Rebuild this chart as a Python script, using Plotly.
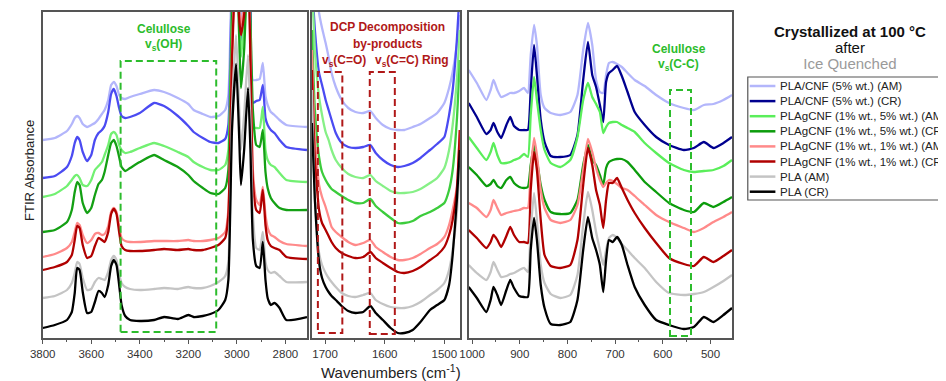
import plotly.graph_objects as go

# the page body adds an 8px margin, so the figure is sized to fill the rest of the 946x381 window
OFF = 8
W, H = 946 - OFF, 381 - OFF

# ---------------- wavenumber grids (cm-1) ----------------
WN_OH = [3800, 3750, 3700, 3680, 3668, 3658, 3648, 3635, 3617, 3600, 3585, 3570, 3556, 3545, 3530,
         3518, 3507, 3496, 3485, 3475, 3460, 3440, 3400, 3341, 3300, 3243, 3200, 3178, 3140, 3109,
         3076, 3048, 3035, 3020, 3003, 2990, 2983, 2970, 2954, 2944, 2934, 2920, 2906, 2893, 2882,
         2873, 2860, 2845, 2824, 2796, 2711]
WN_CO = [1722, 1717, 1710, 1705, 1699, 1694, 1689, 1682, 1672, 1661, 1649, 1636, 1624, 1615, 1603,
         1590, 1578, 1567, 1553, 1540, 1524, 1512, 1500, 1492, 1486, 1479, 1474]
WN_FP = [1007, 990, 970, 961, 955, 947, 939, 928, 920, 912, 901, 891, 883, 877, 870, 864, 856, 848,
         835, 815, 794, 779, 767, 757, 748, 740, 732, 725, 719, 713, 705, 696, 686, 674, 659, 638,
         614, 587, 556, 535, 514, 494, 473, 455]

SERIES = ["PLA/CNF (5% wt.) (AM)", "PLA/CNF (5% wt.) (CR)",
          "PLAgCNF (1% wt., 5% wt.) (AM)", "PLAgCNF (1% wt., 5% wt.) (CR)",
          "PLAgCNF (1% wt., 1% wt.) (AM)", "PLAgCNF (1% wt., 1% wt.) (CR)",
          "PLA (AM)", "PLA (CR)"]

# ---------------- panel 1 : 3800-2711 cm-1 (offset absorbance, a.u.) ----------------
OH_CNF5_AM = [200, 202, 209, 216, 222, 224, 222, 216, 213, 215, 217, 221, 226, 230, 240, 255, 258, 254, 245, 242,
              241, 243, 246, 250, 248, 242, 236, 230, 226, 223, 224, 230, 245, 380, 460, 360, 315, 360, 460, 380,
              260, 260, 261, 277, 244, 235, 228, 225, 220, 215, 213]
OH_CNF5_CR = [162, 164, 173, 184, 197, 203, 200, 188, 179, 185, 200, 207, 210, 214, 228, 246, 251, 244, 232, 224,
              222, 223, 227, 237, 234, 224, 214, 208, 202, 198, 197, 201, 215, 360, 440, 340, 290, 330, 440, 340,
              237, 239, 240, 255, 222, 215, 210, 207, 200, 193, 190]
OH_G15_AM = [143, 146, 154, 160, 164, 165, 162, 155, 154, 160, 170, 174, 178, 185, 195, 206, 208, 205, 195, 190,
             187, 188, 192, 197, 194, 188, 183, 178, 173, 170, 170, 175, 190, 340, 420, 330, 283, 320, 410, 300,
             213, 212, 212, 233, 190, 180, 175, 173, 167, 160, 158]
OH_G15_CR = [108, 110, 118, 130, 148, 158, 155, 137, 127, 132, 145, 156, 160, 168, 185, 197, 200, 194, 183, 173,
             169, 172, 178, 185, 180, 173, 165, 159, 152, 147, 146, 152, 170, 320, 400, 300, 252, 290, 380, 320,
             230, 195, 193, 210, 168, 152, 142, 137, 132, 130, 130]
OH_G11_AM = [83, 86, 92, 98, 108, 117, 115, 105, 97, 100, 106, 107, 105, 106, 114, 128, 132, 128, 114, 102,
             99, 98, 98, 99, 99, 99, 100, 99, 99, 100, 102, 108, 130, 290, 390, 330, 315, 335, 390, 290,
             170, 140, 135, 153, 125, 112, 105, 103, 99, 96, 94]
OH_G11_CR = [70, 73, 78, 85, 100, 114, 112, 95, 82, 84, 94, 102, 100, 98, 108, 126, 131, 126, 108, 94,
             90, 89, 89, 90, 91, 90, 91, 90, 90, 92, 95, 102, 125, 280, 380, 320, 305, 325, 380, 280,
             160, 130, 127, 150, 115, 100, 94, 92, 90, 83, 81]
OH_PLA_AM = [42, 44, 50, 57, 67, 78, 76, 62, 50, 51, 58, 62, 61, 60, 68, 80, 84, 80, 66, 57,
             53, 51, 50, 51, 52, 51, 53, 52, 52, 54, 58, 64, 78, 230, 305, 230, 190, 225, 285, 220,
             125, 92, 90, 108, 78, 70, 67, 68, 64, 58, 58]
OH_PLA_CR = [12, 15, 20, 28, 47, 72, 70, 48, 27, 28, 38, 49, 47, 43, 55, 74, 80, 75, 55, 35,
             24, 20, 19, 20, 23, 21, 25, 23, 24, 26, 30, 40, 60, 210, 276, 200, 155, 190, 252, 190,
             100, 74, 72, 98, 60, 42, 35, 37, 32, 20, 23]

# ---------------- panel 2 : 1722-1474 cm-1 ----------------
CO_CNF5_AM = [420, 360, 327, 312, 297, 283, 267, 253, 240, 232, 228, 227, 229, 222, 215, 211, 210, 210, 213, 216,
              222, 227, 237, 252, 268, 295, 325]
CO_CNF5_CR = [360, 310, 267, 255, 240, 230, 220, 207, 197, 193, 192, 193, 195, 187, 180, 175, 173, 174, 177, 182,
              190, 196, 203, 225, 250, 300, 350]
CO_G15_AM = [360, 290, 243, 225, 208, 200, 190, 180, 172, 166, 163, 162, 165, 159, 154, 149, 147, 147, 148, 151,
             157, 162, 172, 190, 215, 260, 310]
CO_G15_CR = [310, 230, 183, 168, 160, 155, 151, 148, 144, 140, 137, 137, 141, 134, 128, 122, 117, 117, 119, 124,
             128, 132, 137, 150, 170, 220, 280]
CO_G11_AM = [290, 200, 155, 143, 133, 123, 113, 108, 103, 98, 95, 97, 100, 93, 88, 83, 80, 80, 82, 86,
             92, 96, 103, 115, 130, 153, 210]
CO_G11_CR = [270, 180, 130, 117, 110, 104, 98, 92, 87, 84, 82, 83, 88, 82, 77, 72, 68, 67, 69, 73,
             80, 85, 93, 105, 120, 150, 210]
CO_PLA_AM = [250, 140, 87, 75, 67, 62, 58, 53, 47, 44, 43, 45, 47, 40, 36, 33, 32, 32, 34, 38,
             45, 50, 57, 70, 90, 127, 180]
CO_PLA_CR = [217, 140, 78, 62, 53, 48, 44, 40, 34, 29, 27, 28, 34, 27, 20, 12, 7, 7, 10, 18,
             30, 35, 40, 55, 85, 140, 190]

# ---------------- panel 3 : 1007-455 cm-1 ----------------
FP_CNF5_AM = [270, 257, 240, 250, 260, 250, 243, 245, 247, 247, 249, 252, 247, 285, 315, 295, 245, 232, 227, 225,
              228, 245, 290, 317, 295, 260, 248, 247, 265, 277, 278, 276, 273, 267, 260, 254, 245, 237, 232, 230,
              235, 236, 240, 245]
FP_CNF5_CR = [237, 223, 206, 210, 217, 208, 202, 215, 223, 214, 210, 210, 210, 250, 295, 265, 220, 198, 184, 183,
              185, 205, 260, 298, 265, 253, 235, 218, 258, 267, 270, 274, 264, 248, 228, 215, 203, 195, 190, 192,
              198, 192, 197, 203]
FP_G15_AM = [203, 192, 180, 188, 197, 185, 177, 177, 178, 180, 182, 186, 183, 225, 263, 240, 210, 190, 177, 173,
             180, 203, 240, 257, 243, 236, 228, 207, 213, 217, 218, 218, 215, 212, 208, 197, 187, 177, 170, 168,
             169, 170, 174, 180]
FP_G15_CR = [173, 165, 154, 156, 160, 154, 152, 160, 163, 157, 153, 152, 153, 175, 195, 180, 155, 140, 128, 126,
             127, 140, 175, 195, 180, 175, 165, 155, 172, 178, 180, 181, 181, 178, 170, 158, 148, 137, 130, 128,
             137, 133, 138, 143]
FP_G11_AM = [137, 132, 123, 130, 140, 132, 125, 127, 128, 129, 130, 132, 132, 170, 202, 185, 150, 132, 120, 117,
             120, 135, 170, 201, 188, 172, 160, 153, 157, 160, 159, 156, 152, 150, 144, 135, 125, 118, 112, 108,
             112, 118, 123, 128]
FP_G11_CR = [110, 102, 92, 98, 105, 100, 93, 104, 113, 105, 98, 98, 97, 150, 188, 170, 120, 85, 74, 72,
             75, 100, 155, 192, 175, 150, 135, 112, 140, 157, 157, 162, 152, 140, 127, 112, 97, 82, 76, 74,
             83, 78, 84, 90]
FP_PLA_AM = [75, 67, 60, 68, 78, 70, 63, 64, 66, 67, 70, 72, 68, 110, 147, 120, 75, 57, 46, 42,
             45, 65, 115, 148, 130, 108, 90, 75, 90, 102, 105, 102, 96, 90, 82, 72, 58, 47, 45, 46,
             48, 53, 59, 65]
FP_PLA_CR = [53, 42, 28, 40, 53, 45, 35, 50, 60, 52, 44, 43, 43, 90, 122, 100, 55, 32, 16, 15,
             18, 40, 90, 123, 102, 90, 75, 48, 80, 100, 98, 103, 95, 75, 53, 35, 20, 15, 11, 13,
             23, 18, 25, 32]

PANEL1 = [OH_CNF5_AM, OH_CNF5_CR, OH_G15_AM, OH_G15_CR, OH_G11_AM, OH_G11_CR, OH_PLA_AM, OH_PLA_CR]
PANEL2 = [CO_CNF5_AM, CO_CNF5_CR, CO_G15_AM, CO_G15_CR, CO_G11_AM, CO_G11_CR, CO_PLA_AM, CO_PLA_CR]
PANEL3 = [FP_CNF5_AM, FP_CNF5_CR, FP_G15_AM, FP_G15_CR, FP_G11_AM, FP_G11_CR, FP_PLA_AM, FP_PLA_CR]

COLORS_P1 = ['#b3b6fb', '#4b4bf2', '#72f072', '#14a014', '#ff8a8a', '#b00000', '#c4c4c4', '#000000']
COLORS_P2 = ['#b3b6fb', '#4b4bf2', '#86f086', '#3ccc3c', '#ff8a8a', '#b00000', '#c4c4c4', '#000000']
COLORS_P3 = ['#b3b6fb', '#00008f', '#5aee5a', '#0c9c0c', '#ff8a8a', '#b00000', '#c4c4c4', '#000000']
LEGEND_COLORS = ['#b3b6fb', '#00008f', '#5aee5a', '#0c9c0c', '#ff8a8a', '#b00000', '#c4c4c4', '#000000']

FONT = "Arial, Liberation Sans, sans-serif"
GREEN_TXT = '#2cbc2c'
RED_TXT = '#b01818'


def fx(p):
    """window pixel x -> paper fraction"""
    return (p - OFF) / W


def fy(p):
    """window pixel y (from top) -> paper fraction"""
    return (H - (p - OFF)) / H


fig = go.Figure()
panels = [(WN_OH, PANEL1, COLORS_P1, 'x', 'y'),
          (WN_CO, PANEL2, COLORS_P2, 'x2', 'y2'),
          (WN_FP, PANEL3, COLORS_P3, 'x3', 'y3')]
for wn, data, cols, xa, ya in panels:
    for name, vals, c in zip(SERIES, data, cols):
        fig.add_trace(go.Scatter(x=wn, y=vals, mode='lines', name=name, showlegend=False,
                                 line=dict(color=c, width=2.3, shape='spline', smoothing=0.5),
                                 xaxis=xa, yaxis=ya, hoverinfo='skip'))

YDOM = [fy(338), fy(12)]
YRANGE = [2, 328]
ax_common = dict(showline=True, mirror=True, linecolor='#555555', linewidth=1.5, showgrid=False,
                 zeroline=False, ticks='outside', ticklen=4, tickcolor='#555555', tickwidth=1,
                 tickfont=dict(family=FONT, size=11.5, color='#333333'))
y_common = dict(showline=True, mirror=True, linecolor='#555555', linewidth=1.5, showgrid=False,
                zeroline=False, showticklabels=False, ticks='', domain=YDOM, range=YRANGE)

fig.update_layout(
    width=W, height=H, margin=dict(l=0, r=0, t=0, b=0, pad=0),
    paper_bgcolor='white', plot_bgcolor='white', showlegend=False,
    font=dict(family=FONT),
    xaxis=dict(domain=[fx(30), fx(298)], range=[3800, 2711], tickvals=[3800, 3600, 3400, 3200, 3000, 2800],
               minor=dict(dtick=100, ticklen=2, tickcolor='#555555', ticks='outside'), anchor='y', **ax_common),
    xaxis2=dict(domain=[fx(303), fx(453)], range=[1722, 1474], tickvals=[1700, 1600, 1500],
                minor=dict(dtick=50, ticklen=2, tickcolor='#555555', ticks='outside'), anchor='y2', **ax_common),
    xaxis3=dict(domain=[fx(462), fx(729)], range=[1007, 455], tickvals=[1000, 900, 800, 700, 600, 500],
                minor=dict(dtick=50, ticklen=2, tickcolor='#555555', ticks='outside'), anchor='y3', **ax_common),
    yaxis=dict(anchor='x', **y_common),
    yaxis2=dict(anchor='x2', **y_common),
    yaxis3=dict(anchor='x3', **y_common),
)

# dashed band boxes (data coordinates)
box_dash = "7px,4px"
fig.add_shape(type='rect', xref='x', yref='y', x0=3479, x1=3085, y0=8, y1=279,
              line=dict(color=GREEN_TXT, width=2, dash=box_dash))
fig.add_shape(type='rect', xref='x2', yref='y2', x0=1712, x1=1671, y0=7, y1=268,
              line=dict(color=RED_TXT, width=2, dash=box_dash))
fig.add_shape(type='rect', xref='x2', yref='y2', x0=1625, x1=1583, y0=6, y1=268,
              line=dict(color=RED_TXT, width=2, dash=box_dash))
fig.add_shape(type='rect', xref='x3', yref='y3', x0=585, x1=541, y0=4, y1=250,
              line=dict(color=GREEN_TXT, width=2, dash=box_dash))

ann = []


def text(px, py, s, size=12, color='#222222', bold=False, xanchor='center', angle=0):
    if bold:
        s = '<b>' + s + '</b>'
    ann.append(dict(x=fx(px), y=fy(py), xref='paper', yref='paper', text=s, showarrow=False,
                    xanchor=xanchor, yanchor='middle', textangle=angle, borderpad=0, align='center',
                    font=dict(family=FONT, size=size, color=color)))


text(153, 29, 'Celullose', 12, GREEN_TXT, True)
text(153, 45, 'v<sub>s</sub>(OH)', 12, GREEN_TXT, True)
text(380, 27, 'DCP Decomposition', 12, RED_TXT, True)
text(380, 44, 'by-products', 12, RED_TXT, True)
text(336, 61, 'v<sub>s</sub>(C=O)', 12, RED_TXT, True)
text(404, 61, 'v<sub>s</sub>(C=C) Ring', 12, RED_TXT, True)
text(675, 49, 'Celullose', 12, GREEN_TXT, True)
text(675, 65, 'v<sub>s</sub>(C-C)', 12, GREEN_TXT, True)

text(17, 170, 'FTIR Absorbance', 13, '#222222', False, 'center', -90)
text(383, 371, 'Wavenumbers (cm<sup>-1</sup>)', 15, '#222222')

# legend title: one three-line block (16 px line pitch, 15 px glyphs)
TITLE_LINES = ['<b><span style="font-size:15px">Crystallized at 100 °C</span></b>',
               '<span style="font-size:15px">after</span>',
               '<span style="font-size:15px;color:#9a9a9a">Ice Quenched</span>']
text(849, 48, '<br>'.join(TITLE_LINES), 12.3, '#111111')

# legend box and entries
fig.add_shape(type='rect', xref='paper', yref='paper', x0=fx(745), x1=fx(955), y0=fy(200), y1=fy(77),
              line=dict(color='#555555', width=1.2))
for i, (name, c) in enumerate(zip(SERIES, LEGEND_COLORS)):
    yc = 86 + 15.1 * i
    fig.add_shape(type='line', xref='paper', yref='paper', x0=fx(747), x1=fx(773), y0=fy(yc), y1=fy(yc),
                  line=dict(color=c, width=2.5))
    text(777, yc, name, 11.5, '#222222', False, 'left')

fig.update_layout(annotations=ann)
fig.write_html("out.html")
